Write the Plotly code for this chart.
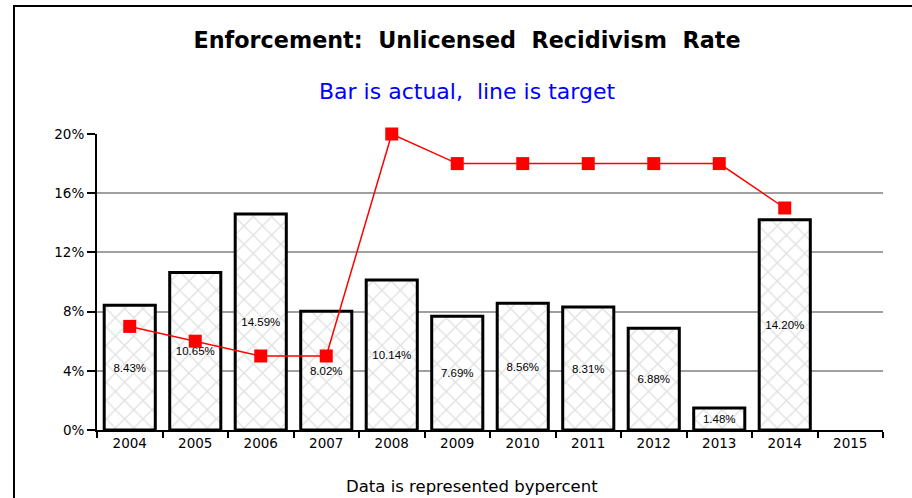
import plotly.graph_objects as go

years = ["2004", "2005", "2006", "2007", "2008", "2009", "2010", "2011", "2012", "2013", "2014", "2015"]
actual = [0.0843, 0.1065, 0.1459, 0.0802, 0.1014, 0.0769, 0.0856, 0.0831, 0.0688, 0.0148, 0.1420, None]
target = [0.07, 0.06, 0.05, 0.05, 0.20, 0.18, 0.18, 0.18, 0.18, 0.18, 0.15, None]

FONT = "Liberation Sans, Arial, sans-serif"
WIDE = "DejaVu Sans, sans-serif"

fig = go.Figure()
fig.add_trace(go.Bar(
    x=years, y=actual, width=0.78,
    marker=dict(color="white",
                line=dict(color="black", width=3),
                pattern=dict(shape="x", fgcolor="#c4c4c4", bgcolor="white", size=13, solidity=0.2)),
    texttemplate="%{y:.2%}", textposition="inside", insidetextanchor="middle",
    textangle=0, textfont=dict(family=FONT, size=11.5, color="black"),
    cliponaxis=False, showlegend=False,
))
fig.add_trace(go.Scatter(
    x=years, y=target, mode="lines+markers",
    line=dict(color="#ff0000", width=1.5),
    marker=dict(symbol="square", size=13, color="#ff0000"),
    cliponaxis=False, showlegend=False,
))

fig.update_layout(
    width=912, height=498,
    margin=dict(l=97, r=29, t=134, b=68, autoexpand=False),
    paper_bgcolor="white", plot_bgcolor="white",
    font=dict(family=WIDE, size=14, color="black"),
    title=dict(text="<b>Enforcement:  Unlicensed  Recidivism  Rate</b>",
               x=467/912, xref="container", xanchor="center",
               y=1 - 40/498, yref="container", yanchor="middle",
               font=dict(family=WIDE, size=22.3, color="black")),
    bargap=0.22,
)
fig.update_xaxes(
    type="category", range=[-0.5, 11.5], tickson="boundaries",
    showline=True, linecolor="black", linewidth=2,
    ticks="outside", ticklen=6, tickwidth=1.5, tickcolor="black",
    showgrid=False, tickfont=dict(family=WIDE, size=13.5),
)
fig.update_yaxes(
    range=[0, 0.2], dtick=0.04, tickformat=".0%",
    showline=True, linecolor="black", linewidth=2,
    ticks="outside", ticklen=8, tickwidth=1.5, tickcolor="black",
    showgrid=True, gridcolor="#a0a0a0", gridwidth=1.5,
    tickfont=dict(family=WIDE, size=13.5), zeroline=False,
)

fig.add_annotation(text="Bar is actual,  line is target", xref="paper", yref="paper",
                   x=(467 - 97) / 786, y=(430 - 91) / 296, showarrow=False,
                   xanchor="center", yanchor="middle",
                   font=dict(family=WIDE, size=22, color="#0000ff"))
fig.add_annotation(text="Data is represented bypercent", xref="paper", yref="paper",
                   x=(472 - 97) / 786, y=(430 - 486) / 296, showarrow=False,
                   xanchor="center", yanchor="middle",
                   font=dict(family=WIDE, size=16.5, color="black"))

fig.add_shape(type="rect", xref="paper", yref="paper",
              x0=(14 - 97) / 786, x1=(918 - 97) / 786,
              y0=(430 - 510) / 296, y1=(430 - 6) / 296,
              line=dict(color="black", width=2), layer="below")

fig.write_html("out.html", config={"displayModeBar": False},
               post_script="document.body.style.margin='0';document.body.style.overflow='hidden';")
